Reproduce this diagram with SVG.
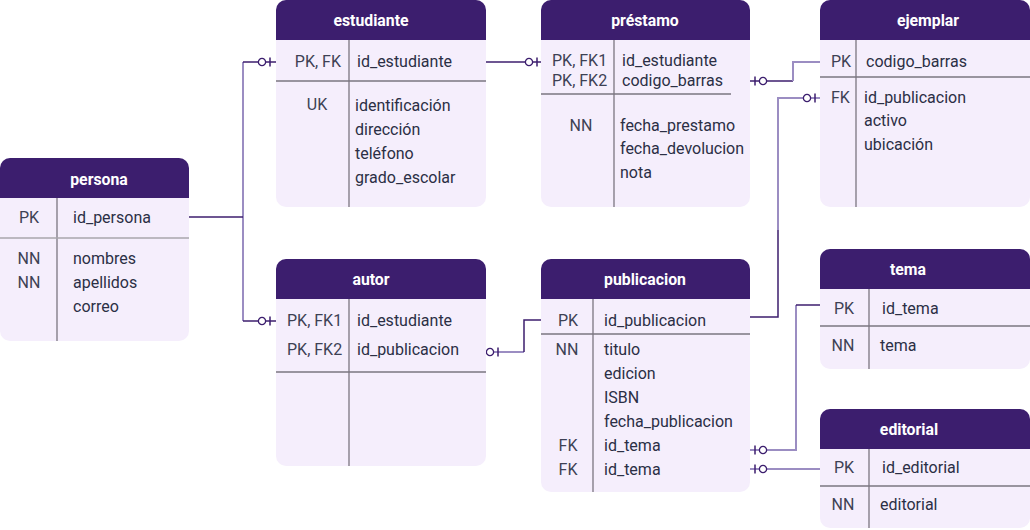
<svg xmlns="http://www.w3.org/2000/svg" width="1030" height="530" viewBox="0 0 1030 530">
<style>
.body{fill:#f5eefc}
.hdr{fill:#3c1e6e}
.ttl{font-family:Roboto,"Liberation Sans",sans-serif;font-size:15.8px;font-weight:bold;fill:#ffffff;text-anchor:middle}
.t{font-family:Roboto,"Liberation Sans",sans-serif;font-size:16px;fill:#2b2f45}
.k{font-family:Roboto,"Liberation Sans",sans-serif;font-size:16px;fill:#3d4154}
.km{text-anchor:middle}
.ke{text-anchor:end}
.div{stroke:#7a7680;stroke-width:1.3;fill:none}
.dk{stroke:#3c1e6e;stroke-width:1.5;fill:none}
.lt{stroke:#9b8dc2;stroke-width:2;fill:none}
.circ{fill:#ffffff;stroke:#3c1e6e;stroke-width:1.3}
</style>
<defs>
<g id="mk">
<circle class="circ" cx="0" cy="0" r="3.6"/>
<line x1="8" y1="-4.5" x2="8" y2="4.5" stroke="#3c1e6e" stroke-width="1.5"/>
</g>
<g id="mkr">
<circle class="circ" cx="0" cy="0" r="3.6"/>
<line x1="-8" y1="-4.5" x2="-8" y2="4.5" stroke="#3c1e6e" stroke-width="1.5"/>
</g>
</defs>

<g id="connectors">
<path class="lt" d="M243,62 V321"/>
<path class="dk" d="M189,217 H243"/>
<path class="dk" d="M243,62 H276"/>
<path class="dk" d="M243,321 H276"/>
<use href="#mk" x="262" y="62"/>
<use href="#mk" x="262" y="321"/>
<path class="dk" d="M486,62 H541"/>
<use href="#mk" x="529" y="62"/>
<path class="dk" d="M750,81 H793"/>
<path class="lt" d="M793,81 V62 H820"/>
<use href="#mkr" x="763" y="81"/>
<path class="lt" d="M778,230 V98 H820"/>
<path class="dk" d="M750,317 H778 V230"/>
<use href="#mk" x="807" y="98"/>
<path class="lt" d="M486,352 H524"/>
<path class="dk" d="M524,352 V320 H541"/>
<use href="#mk" x="490" y="352"/>
<path class="lt" d="M750,450 H796 V305"/>
<path class="dk" d="M796,305 H820"/>
<use href="#mkr" x="763" y="450"/>
<path class="lt" d="M750,469 H820"/>
<use href="#mkr" x="763" y="469"/>
</g>

<g id="persona">
<rect class="body" x="0" y="158" width="189" height="183" rx="10"/>
<path class="hdr" d="M0,198 V168 A10,10 0 0 1 10,158 H179 A10,10 0 0 1 189,168 V198 Z"/>
<text class="ttl" x="99" y="185">persona</text>
<line class="div" x1="57" y1="198" x2="57" y2="341"/>
<line x1="0" y1="238" x2="189" y2="238" stroke="#a9a6ad" stroke-width="1.5"/>
<text class="k km" x="29" y="223">PK</text>
<text class="t" x="73" y="223">id_persona</text>
<text class="k km" x="29" y="264">NN</text>
<text class="k km" x="29" y="288">NN</text>
<text class="t" x="73" y="264">nombres</text>
<text class="t" x="73" y="288">apellidos</text>
<text class="t" x="73" y="312">correo</text>
</g>

<g id="estudiante">
<rect class="body" x="276" y="0" width="210" height="207" rx="10"/>
<path class="hdr" d="M276,40 V10 A10,10 0 0 1 286,0 H476 A10,10 0 0 1 486,10 V40 Z"/>
<text class="ttl" x="371" y="26">estudiante</text>
<line class="div" x1="349" y1="40" x2="349" y2="207"/>
<line class="div" x1="276" y1="81" x2="486" y2="81"/>
<text class="k ke" x="341" y="67">PK, FK</text>
<text class="t" x="357" y="67">id_estudiante</text>
<text class="k km" x="317" y="110">UK</text>
<text class="t" x="355" y="111">identificación</text>
<text class="t" x="355" y="135">dirección</text>
<text class="t" x="355" y="159">teléfono</text>
<text class="t" x="355" y="183">grado_escolar</text>
</g>

<g id="prestamo">
<rect class="body" x="541" y="0" width="209" height="207" rx="10"/>
<path class="hdr" d="M541,40 V10 A10,10 0 0 1 551,0 H740 A10,10 0 0 1 750,10 V40 Z"/>
<text class="ttl" x="645" y="26">préstamo</text>
<line class="div" x1="614" y1="40" x2="614" y2="207"/>
<line class="div" x1="541" y1="94" x2="731" y2="94"/>
<text class="k" x="552" y="66">PK, FK1</text>
<text class="k" x="552" y="86">PK, FK2</text>
<text class="t" x="622" y="66">id_estudiante</text>
<text class="t" x="622" y="86">codigo_barras</text>
<text class="k km" x="581" y="131">NN</text>
<text class="t" x="620" y="131">fecha_prestamo</text>
<text class="t" x="620" y="154">fecha_devolucion</text>
<text class="t" x="620" y="178">nota</text>
</g>

<g id="ejemplar">
<rect class="body" x="820" y="0" width="210" height="207" rx="10"/>
<path class="hdr" d="M820,40 V10 A10,10 0 0 1 830,0 H1020 A10,10 0 0 1 1030,10 V40 Z"/>
<text class="ttl" x="928" y="26">ejemplar</text>
<line class="div" x1="856" y1="40" x2="856" y2="207"/>
<line class="div" x1="820" y1="77" x2="1030" y2="77"/>
<text class="k" x="831" y="67">PK</text>
<text class="t" x="866" y="67">codigo_barras</text>
<text class="k" x="831" y="103">FK</text>
<text class="t" x="864" y="103">id_publicacion</text>
<text class="t" x="864" y="126">activo</text>
<text class="t" x="864" y="150">ubicación</text>
</g>

<g id="autor">
<rect class="body" x="276" y="259" width="210" height="207" rx="10"/>
<path class="hdr" d="M276,299 V269 A10,10 0 0 1 286,259 H476 A10,10 0 0 1 486,269 V299 Z"/>
<text class="ttl" x="371" y="285">autor</text>
<line class="div" x1="349" y1="299" x2="349" y2="466"/>
<line class="div" x1="276" y1="372" x2="486" y2="372"/>
<text class="k" x="287" y="326">PK, FK1</text>
<text class="k" x="287" y="355">PK, FK2</text>
<text class="t" x="357" y="326">id_estudiante</text>
<text class="t" x="357" y="355">id_publicacion</text>
</g>

<g id="publicacion">
<rect class="body" x="541" y="259" width="209" height="233" rx="10"/>
<path class="hdr" d="M541,299 V269 A10,10 0 0 1 551,259 H740 A10,10 0 0 1 750,269 V299 Z"/>
<text class="ttl" x="645" y="285">publicacion</text>
<line class="div" x1="593" y1="299" x2="593" y2="492"/>
<line class="div" x1="541" y1="334" x2="750" y2="334"/>
<text class="k km" x="568" y="326">PK</text>
<text class="t" x="604" y="326">id_publicacion</text>
<text class="k km" x="567" y="355">NN</text>
<text class="t" x="604" y="355">titulo</text>
<text class="t" x="604" y="379">edicion</text>
<text class="t" x="604" y="403">ISBN</text>
<text class="t" x="604" y="427">fecha_publicacion</text>
<text class="k km" x="568" y="451">FK</text>
<text class="t" x="604" y="451">id_tema</text>
<text class="k km" x="568" y="475">FK</text>
<text class="t" x="604" y="475">id_tema</text>
</g>

<g id="tema">
<rect class="body" x="820" y="249" width="210" height="120" rx="10"/>
<path class="hdr" d="M820,289 V259 A10,10 0 0 1 830,249 H1020 A10,10 0 0 1 1030,259 V289 Z"/>
<text class="ttl" x="908" y="275">tema</text>
<line class="div" x1="869" y1="289" x2="869" y2="369"/>
<line class="div" x1="820" y1="326" x2="1030" y2="326"/>
<text class="k km" x="844" y="314">PK</text>
<text class="t" x="882" y="314">id_tema</text>
<text class="k km" x="843" y="351">NN</text>
<text class="t" x="880" y="351">tema</text>
</g>

<g id="editorial">
<rect class="body" x="820" y="409" width="210" height="119" rx="10"/>
<path class="hdr" d="M820,449 V419 A10,10 0 0 1 830,409 H1020 A10,10 0 0 1 1030,419 V449 Z"/>
<text class="ttl" x="909" y="435">editorial</text>
<line class="div" x1="869" y1="449" x2="869" y2="528"/>
<line class="div" x1="820" y1="486" x2="1030" y2="486"/>
<text class="k km" x="844" y="473">PK</text>
<text class="t" x="882" y="473">id_editorial</text>
<text class="k km" x="843" y="510">NN</text>
<text class="t" x="880" y="510">editorial</text>
</g>
</svg>
